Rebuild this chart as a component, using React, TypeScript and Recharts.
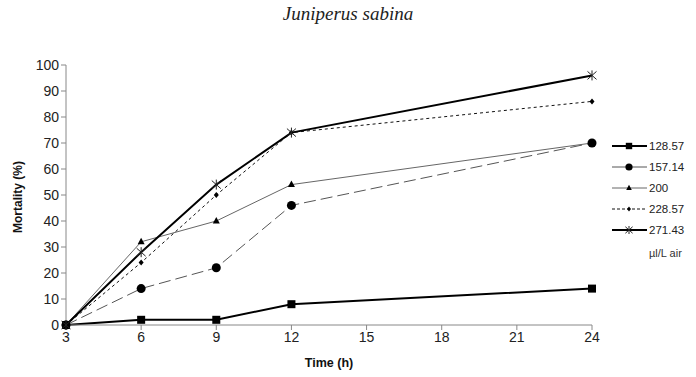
import React from "react";
import { LineChart, Line, XAxis, YAxis, Legend } from "recharts";

const hours = [3, 6, 9, 12, 24];
const dose12857 = [0, 2, 2, 8, 14];
const dose15714 = [0, 14, 22, 46, 70];
const dose200 = [0, 32, 40, 54, 70];
const dose22857 = [0, 24, 50, 74, 86];
const dose27143 = [0, 28, 54, 74, 96];
const xTicks = [3, 6, 9, 12, 15, 18, 21, 24];
const yTicks = [0, 10, 20, 30, 40, 50, 60, 70, 80, 90, 100];

const data = hours.map((h, i) => ({
    h,
    d1: dose12857[i],
    d2: dose15714[i],
    d3: dose200[i],
    d4: dose22857[i],
    d5: dose27143[i],
}));

const font = "'Liberation Sans', Arial, sans-serif";

const Marker = ({ kind, cx, cy, k = 1 }: { kind: string; cx: number; cy: number; k?: number }) => {
    if (kind === "square")
        return <rect x={cx - 4 * k} y={cy - 4 * k} width={8 * k} height={8 * k} fill="#000" />;
    if (kind === "circle") return <circle cx={cx} cy={cy} r={4.5 * k} fill="#000" />;
    if (kind === "triangle")
        return (
            <polygon
                points={`${cx},${cy - 4 * k} ${cx + 3.5 * k},${cy + 2.5 * k} ${cx - 3.5 * k},${cy + 2.5 * k}`}
                fill="#000"
            />
        );
    if (kind === "diamond")
        return (
            <polygon
                points={`${cx},${cy - 3 * k} ${cx + 2.5 * k},${cy} ${cx},${cy + 3 * k} ${cx - 2.5 * k},${cy}`}
                fill="#000"
            />
        );
    // asterisk-like star
    return (
        <g stroke="#222" strokeWidth={1}>
            <line x1={cx} y1={cy - 5 * k} x2={cx} y2={cy + 5 * k} />
            <line x1={cx - 4.5 * k} y1={cy - 4 * k} x2={cx + 4.5 * k} y2={cy + 4 * k} />
            <line x1={cx - 4.5 * k} y1={cy + 4 * k} x2={cx + 4.5 * k} y2={cy - 4 * k} />
        </g>
    );
};

const series = [
    { key: "d1", name: "128.57", stroke: "#000", width: 2, dash: undefined, marker: "square" },
    { key: "d2", name: "157.14", stroke: "#555", width: 1, dash: "12 5", marker: "circle" },
    { key: "d3", name: "200", stroke: "#666", width: 1, dash: undefined, marker: "triangle" },
    { key: "d4", name: "228.57", stroke: "#111", width: 1, dash: "3 3", marker: "diamond" },
    { key: "d5", name: "271.43", stroke: "#000", width: 2, dash: undefined, marker: "star" },
];

const renderLegend = () => (
    <svg width={88} height={140}>
        {series.map((s, i) => {
            const y = 10 + i * 21;
            return (
                <g key={s.key}>
                    <line
                        x1={5}
                        x2={40}
                        y1={y}
                        y2={y}
                        stroke={s.stroke}
                        strokeWidth={s.width}
                        strokeDasharray={s.dash === "3 3" ? "3 2" : undefined}
                    />
                    <Marker kind={s.marker} cx={22} cy={y} k={0.8} />
                    <text x={42} y={y + 4} fontSize={11.5} fill="#222" fontFamily={font}>
                        {s.name}
                    </text>
                </g>
            );
        })}
        <text x={42} y={121} fontSize={11} fill="#333" fontFamily={font}>
            µl/L air
        </text>
    </svg>
);

export default function App() {
    return (
        <div style={{ position: "absolute", left: 0, top: 0, width: 696, height: 377, background: "#fff" }}>
            <div
                style={{
                    position: "absolute",
                    left: 0,
                    top: 3,
                    width: 696,
                    textAlign: "center",
                    fontFamily: "'Liberation Serif', 'Times New Roman', serif",
                    fontStyle: "italic",
                    fontSize: 19,
                    color: "#222",
                }}
            >
                Juniperus sabina
            </div>
            <LineChart
                width={696}
                height={377}
                data={data}
                margin={{ top: 65, right: 104, bottom: 0, left: 0 }}
            >
                <XAxis
                    dataKey="h"
                    type="number"
                    domain={[3, 24]}
                    ticks={xTicks}
                    stroke="#888"
                    tickSize={5}
                    height={52}
                    tick={{ fill: "#222", fontSize: 14, fontFamily: font }}
                    label={{
                        value: "Time (h)",
                        position: "insideBottom",
                        offset: 10,
                        fill: "#111",
                        fontSize: 12.5,
                        fontWeight: "bold",
                        fontFamily: font,
                    }}
                />
                <YAxis
                    type="number"
                    domain={[0, 100]}
                    ticks={yTicks}
                    width={66}
                    stroke="#888"
                    tickSize={5}
                    tick={{ fill: "#222", fontSize: 14, fontFamily: font }}
                    label={{
                        content: () => (
                            <text
                                x={22}
                                y={197}
                                transform="rotate(-90 22 197)"
                                textAnchor="middle"
                                fontSize={12}
                                fontWeight="bold"
                                fill="#111"
                                fontFamily={font}
                            >
                                Mortality (%)
                            </text>
                        ),
                    }}
                />
                <Legend
                    layout="horizontal"
                    verticalAlign="middle"
                    content={renderLegend}
                    wrapperStyle={{ left: 607, top: 136, width: 88, height: 140 }}
                />
                {series.map((s) => (
                    <Line
                        key={s.key}
                        dataKey={s.key}
                        name={s.name}
                        type="linear"
                        stroke={s.stroke}
                        strokeWidth={s.width}
                        strokeDasharray={s.dash}
                        isAnimationActive={false}
                        dot={(p: any) => (
                            <Marker key={`${s.key}-${p.index}`} kind={s.marker} cx={p.cx} cy={p.cy} />
                        )}
                        activeDot={false}
                    />
                ))}
            </LineChart>
        </div>
    );
}
